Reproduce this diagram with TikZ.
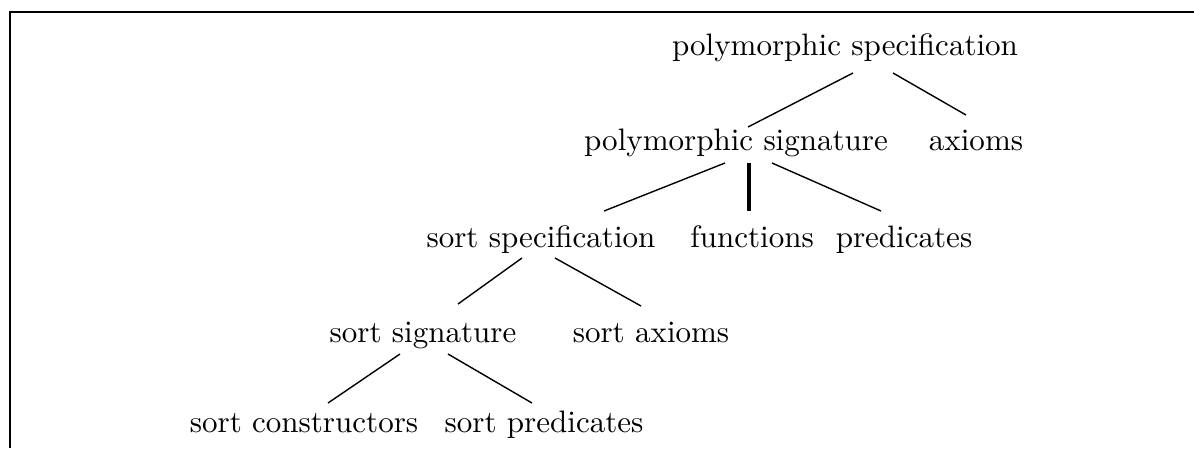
\documentclass[tikz,border=0pt]{standalone}
\usetikzlibrary{calc}
\begin{document}
\begin{tikzpicture}[x=0.3223pt,y=-0.3223pt,
  lbl/.style={inner sep=0pt,anchor=base,font=\fontsize{10}{12}\selectfont},
  edge/.style={line width=0.45pt},
  thickedge/.style={line width=1pt},
  frame/.style={line width=0.9pt}]
\useasboundingbox (0,0) rectangle (1194,448);
\draw[frame] (10,448) -- (10,12) -- (1194,12);
\node[lbl] (ps) at (845,55) {polymorphic specification};
\node[lbl] (psig) at (736,150) {polymorphic signature};
\node[lbl] (ax) at (976,150) {axioms};
\node[lbl] (ss) at (541,247) {sort specification};
\node[lbl] (fn) at (752,247) {functions};
\node[lbl] (pr) at (904,247) {predicates};
\node[lbl] (ssig) at (423,342) {sort signature};
\node[lbl] (sax) at (651,342) {sort axioms};
\node[lbl] (sc) at (304,432) {sort constructors};
\node[lbl] (sp) at (544,432) {sort predicates};
\draw[edge] ($(ps.base)+(8,18)$) -- ($(psig.base)+(12,-23)$);
\draw[edge] ($(ps.base)+(48,18)$) -- ($(ax.base)+(-10,-35)$);
\draw[edge] ($(psig.base)+(-11,13)$) -- ($(ss.base)+(63,-36)$);
\draw[thickedge] ($(psig.base)+(13,13)$) -- ($(fn.base)+(-3,-36)$);
\draw[edge] ($(psig.base)+(36,13)$) -- ($(pr.base)+(-23,-36)$);
\draw[edge] ($(ss.base)+(-19,11)$) -- ($(ssig.base)+(35,-38)$);
\draw[edge] ($(ss.base)+(14,11)$) -- ($(sax.base)+(-10,-36)$);
\draw[edge] ($(ssig.base)+(-23,12)$) -- ($(sc.base)+(24,-29)$);
\draw[edge] ($(ssig.base)+(25,12)$) -- ($(sp.base)+(-12,-29)$);
\end{tikzpicture}
\end{document}
